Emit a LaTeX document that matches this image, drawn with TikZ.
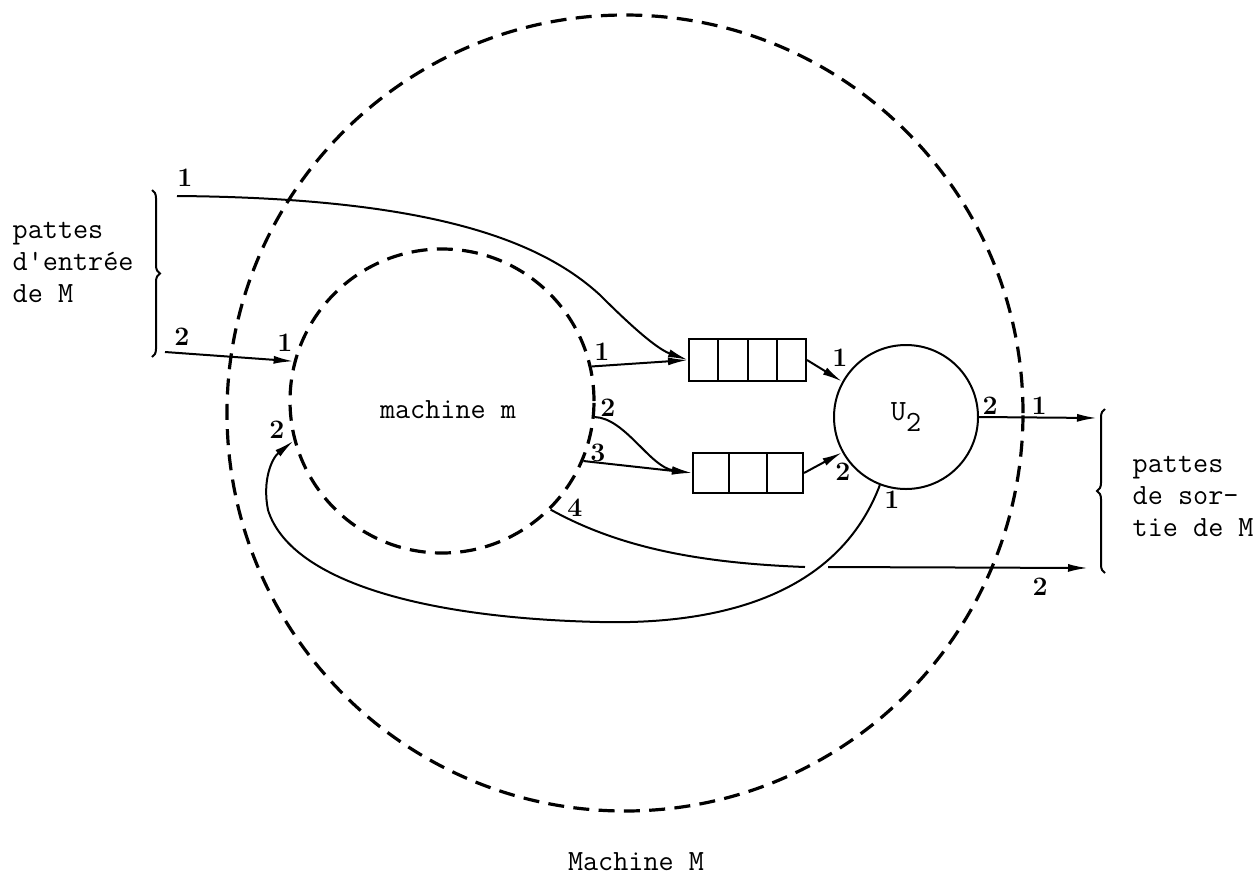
\documentclass[tikz,border=0pt]{standalone}
\usepackage{amsmath}
\usepackage{amssymb}
\usepackage{fontspec}
\usepackage{tikz}
\usetikzlibrary{arrows.meta,calc,decorations.pathreplacing}

\begin{document}
\begin{tikzpicture}[x=0.75pt,y=0.75pt,yscale=-1,xscale=1,
  >={Latex[length=15pt,width=6pt]},
  wire/.style={line width=1.5pt},
  ring/.style={circle,draw,dash pattern=on 12pt off 7pt,line width=2.4pt,inner sep=0pt},
  fifo/.style={draw,line width=1.5pt,inner sep=0pt},
  num/.style={font=\fontsize{20}{20}\selectfont\bfseries},
  txt/.style={font=\fontsize{22}{24}\selectfont\ttfamily,align=left}]
\useasboundingbox (0,0) rectangle (1258,876);
% the two machines and U2
\node [ring,minimum size=597pt] (bigM) at (625,413) {};
\node [ring,minimum size=228pt] (m) at (442,401) {};
\node [txt] (mname) at (448,410) {machine m};
\node [circle,draw,line width=1.5pt,minimum size=108pt,txt] (U) at (906,417) {U\raisebox{-0.4em}{2}};
% files
\node [fifo,minimum width=87.75pt,minimum height=31.5pt] (q1) at (747.5,360) {};
\node [fifo,minimum width=82.5pt,minimum height=30pt] (q2) at (748,473) {};
\foreach \i in {1,2,3} \draw[wire] ($(q1.north west)!\i/4!(q1.north east)$) -- ($(q1.south west)!\i/4!(q1.south east)$);
\foreach \i in {1,2} \draw[wire] ($(q2.north west)!\i/3!(q2.north east)$) -- ($(q2.south west)!\i/3!(q2.south east)$);
% free ends
\coordinate (in1) at (177,196);
\coordinate (in2) at (165,352);
\coordinate (out1) at (1097,418);
\coordinate (out2) at (1088,568);
\coordinate (hopA) at (805,567);
\coordinate (hopB) at (828,567);
% connections
\draw[wire,->] (in1) .. controls (430,198) and (540,240) .. (600,295) .. controls (640,335) and (660,350) .. (q1.west);
\draw[wire,->] (in2) -- (m.165);
\draw[wire,->] (m.13) -- (q1.west);
\draw[wire,->] (m.-6) .. controls (625,418) and (650,467) .. (q2.west);
\draw[wire,->] (m.-23) -- (q2.west);
\draw[wire,->] (q1.east) -- (U.151);
\draw[wire,->] (q2.east) -- (U.209);
\draw[wire,->] (U.east) -- (out1);
\draw[wire] (m.-45) .. controls (620,548) and (700,563) .. (hopA);
\draw[wire,->] (hopB) -- (out2);
\draw[wire,->] (U.249) .. controls (840,590) and (730,625) .. (600,622) .. controls (420,618) and (290,580) .. (268,510) .. controls (262,480) and (272,458) .. (m.195);
% port numbers
\node [num] (nin1) at (185,178) {1};
\node [num] (nin2) at (182,337) {2};
\node [num] (nm1) at (285,343) {1};
\node [num] (nm2) at (277,430) {2};
\node [num] (nmo1) at (602,352) {1};
\node [num] (nmo2) at (608,408) {2};
\node [num] (nmo3) at (598,453) {3};
\node [num] (nmo4) at (575,508) {4};
\node [num] (nu1) at (840,358) {1};
\node [num] (nu2) at (843,472) {2};
\node [num] (nuo2) at (990,406) {2};
\node [num] (nuo1) at (892,500) {1};
\node [num] (nout1) at (1039,406) {1};
\node [num] (nout2) at (1040,587) {2};
% braces and texts
\draw[wire,decorate,decoration={brace,mirror,amplitude=6pt}] (152,357) -- (152,190);
\draw[wire,decorate,decoration={brace,mirror,amplitude=6pt}] (1105,409) -- (1105,573);
\node [txt,anchor=west] (entree) at (8,262) {pattes\\d'entrée\\de M};
\node [txt,anchor=west] (sortie) at (1128,496) {pattes\\de sor-\\tie de M};
\node [txt] (Mname) at (636,862) {Machine M};
\end{tikzpicture}
\end{document}
